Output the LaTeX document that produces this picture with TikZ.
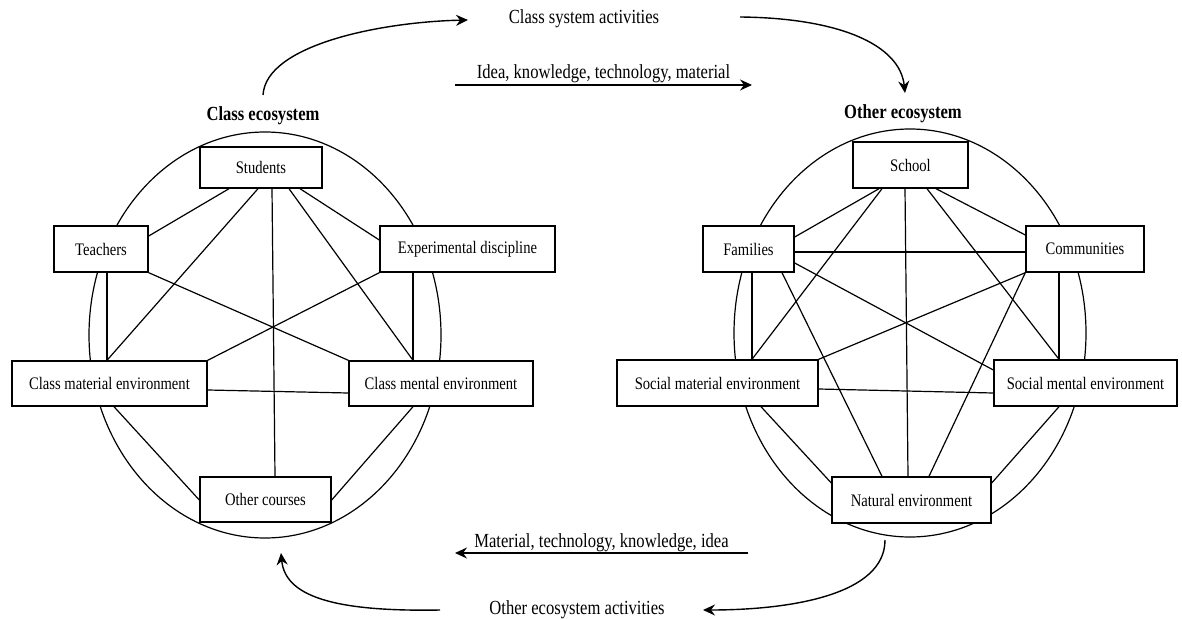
\documentclass[tikz,border=0pt]{standalone}
\usepackage{fontspec}
\setmainfont[FakeStretch=0.83]{Liberation Serif}
\usetikzlibrary{arrows.meta}

\begin{document}
\begin{tikzpicture}[x=0.5pt, y=-0.5pt,
    ecobox/.style={draw, line width=0.7pt, fill=white, inner sep=0pt, align=center, font=\fontsize{8.8}{10}\selectfont},
    link/.style={line width=0.6pt},
    ring/.style={line width=0.6pt},
    flow/.style={line width=0.7pt, -{Stealth[length=6pt, width=5.5pt, inset=2pt]}},
    ecotitle/.style={font=\fontsize{10}{12}\selectfont\bfseries},
    flowtext/.style={font=\fontsize{10}{12}\selectfont}]
    \useasboundingbox (0,0) rectangle (1182,620);

    % Ecosystem rings
    \draw[ring] (265,335) ellipse [x radius=176, y radius=203];
    \draw[ring] (910,333) ellipse [x radius=176, y radius=204];

    \node[ecotitle] (ctitle) at (263,116) {Class ecosystem};
    \node[ecotitle] (otitle) at (903,114) {Other ecosystem};

    % Class ecosystem boxes
    \node[ecobox, minimum width=61pt, minimum height=20.5pt] (stu) at (261,167.5) {Students};
    \node[ecobox, minimum width=47pt, minimum height=23pt] (tea) at (101,249) {Teachers};
    \node[ecobox, minimum width=87.5pt, minimum height=23pt] (exp) at (467.5,249) {Experimental discipline};
    \node[ecobox, minimum width=97.5pt, minimum height=22.5pt] (cma) at (109.5,383.5) {Class material environment};
    \node[ecobox, minimum width=92pt, minimum height=22.5pt] (cme) at (441,383.5) {Class mental environment};
    \node[ecobox, minimum width=65.5pt, minimum height=22.5pt] (oth) at (265.5,499.5) {Other courses};

    % Class ecosystem links
    \draw[link] (stu.south -| 229,0) -- (tea.east |- 0,236);
    \draw[link] (stu.south -| 258,0) -- (cma.north -| 107,0);
    \draw[link] (stu.south -| 272,0) -- (oth.north -| 275,0);
    \draw[link] (stu.south -| 289,0) -- (cme.north -| 413,0);
    \draw[link] (stu.south -| 300,0) -- (exp.west |- 0,240);
    \draw[link] (tea.south -| 107,0) -- (cma.north -| 107,0);
    \draw[link] (tea.south east) -- (cme.north west);
    \draw[link] (exp.south west) -- (cma.north east);
    \draw[link] (exp.south -| 413,0) -- (cme.north -| 413,0);
    \draw[link] (cma.east |- 0,390) -- (cme.west |- 0,393);
    \draw[link] (cma.south -| 114,0) -- (oth.west |- 0,500);
    \draw[link] (cme.south -| 413,0) -- (oth.east |- 0,500);

    % Other ecosystem boxes
    \node[ecobox, minimum width=57.5pt, minimum height=23pt] (sch) at (910.5,165) {School};
    \node[ecobox, minimum width=45.5pt, minimum height=23pt] (fam) at (748.5,249) {Families};
    \node[ecobox, minimum width=59pt, minimum height=23pt] (com) at (1085,249) {Communities};
    \node[ecobox, minimum width=100.5pt, minimum height=23pt] (sma) at (717.5,383) {Social material environment};
    \node[ecobox, minimum width=91.5pt, minimum height=23pt] (sme) at (1085.5,383) {Social mental environment};
    \node[ecobox, minimum width=79.5pt, minimum height=23pt] (nat) at (911.5,500) {Natural environment};

    % Other ecosystem links
    \draw[link] (sch.south -| 879,0) -- (fam.east |- 0,237);
    \draw[link] (sch.south -| 882,0) -- (sma.north -| 752,0);
    \draw[link] (sch.south -| 905,0) -- (nat.north -| 908,0);
    \draw[link] (sch.south -| 927,0) -- (sme.north -| 1059,0);
    \draw[link] (sch.south -| 936,0) -- (com.west |- 0,235);
    \draw[link] (fam.east |- 0,252) -- (com.west |- 0,252);
    \draw[link] (fam.south -| 752,0) -- (sma.north -| 752,0);
    \draw[link] (fam.east |- 0,263) -- (sme.west |- 0,370);
    \draw[link] (fam.south -| 782,0) -- (nat.north -| 882,0);
    \draw[link] (com.south west) -- (sma.north east);
    \draw[link] (com.south west) -- (nat.north -| 929,0);
    \draw[link] (com.south -| 1059,0) -- (sme.north -| 1059,0);
    \draw[link] (sma.east |- 0,389) -- (sme.west |- 0,393);
    \draw[link] (sma.south -| 761,0) -- (nat.west |- 0,483);
    \draw[link] (sme.south -| 1059,0) -- (nat.east |- 0,483);

    % Exchanges between the two ecosystems
    \node[flowtext] (cact) at (584,19) {Class system activities};
    \node[flowtext] (oact) at (577,610) {Other ecosystem activities};
    \coordinate (ctop) at (263,95);
    \coordinate (cend) at (468,20);
    \coordinate (ostart) at (740,17);
    \coordinate (otop) at (905,93);
    \coordinate (obot) at (885,540);
    \coordinate (oend) at (703,610);
    \coordinate (lstart) at (440,610);
    \coordinate (cbot) at (281,553);
    \coordinate (ia) at (455,85);
    \coordinate (ib) at (752,85);
    \coordinate (ma) at (748,553);
    \coordinate (mb) at (455,553);

    \draw[flow] (ctop) .. controls (266,45) and (380,22) .. (cend);
    \draw[flow] (ostart) .. controls (840,18) and (900,45) .. (otop);
    \draw[flow] (obot) .. controls (885,595) and (790,610) .. (oend);
    \draw[flow] (lstart) .. controls (330,612) and (285,595) .. (cbot);
    \draw[flow] (ia) -- node[flowtext, above=-2.5pt] {Idea, knowledge, technology, material} (ib);
    \draw[flow] (ma) -- node[flowtext, above=-3pt] {Material, technology, knowledge, idea} (mb);
\end{tikzpicture}
\end{document}
